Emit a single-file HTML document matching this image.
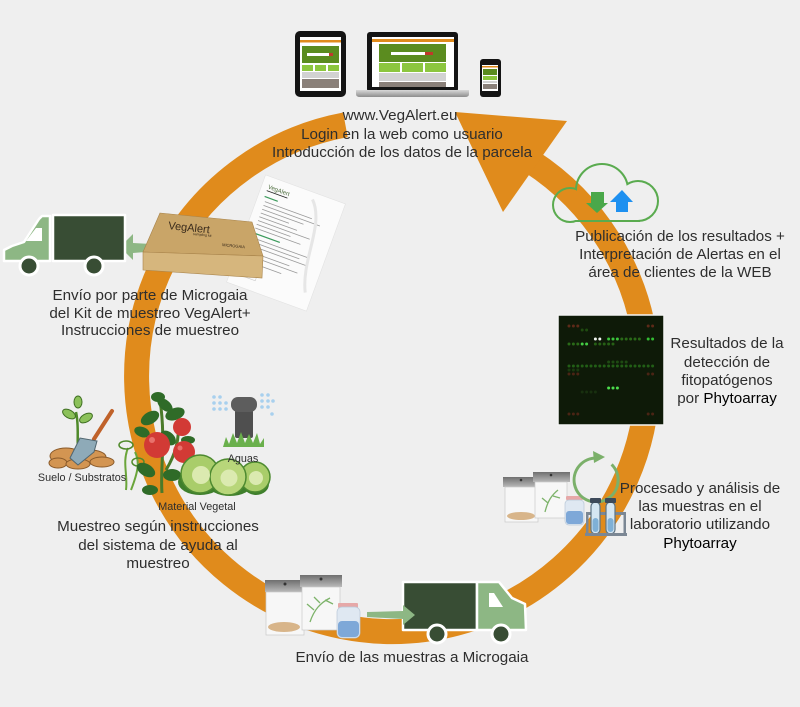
<!DOCTYPE html>
<html><head><meta charset="utf-8"><style>
html,body{margin:0;padding:0;background:#efefef;}
svg{display:block;}
text{font-family:"Liberation Sans",Arial,sans-serif;}
.t{font-size:15.2px;fill:#2e2e2e;text-anchor:middle;}
.s{font-size:10.8px;fill:#2e2e2e;text-anchor:middle;}
.k{fill:#000;}
</style></head><body>
<svg width="800" height="707" viewBox="0 0 800 707" xmlns="http://www.w3.org/2000/svg">
<defs>
<mask id="cm"><rect x="0" y="0" width="800" height="707" fill="#fff"/>
<circle cx="570" cy="205" r="16" fill="#000"/><circle cx="602" cy="190" r="25" fill="#000"/><circle cx="638" cy="201" r="19" fill="#000"/><rect x="570" y="192" width="68" height="28" fill="#000"/></mask>
<linearGradient id="hd" x1="0" y1="0" x2="0" y2="1"><stop offset="0" stop-color="#6f6f6f"/><stop offset="1" stop-color="#b9b9b9"/></linearGradient>
<linearGradient id="base" x1="0" y1="0" x2="0" y2="1"><stop offset="0" stop-color="#d8d8d8"/><stop offset="1" stop-color="#8d8d8d"/></linearGradient>
</defs>
<rect width="800" height="707" fill="#efefef"/>

<!-- ring -->
<path d="M345.4,124.8 A255.5,255.5 0 1 0 531.2,161.7" fill="none" stroke="#e08b1c" stroke-width="25"/>
<polygon points="455,112 567,121 503,212" fill="#e08b1c"/>

<!-- devices -->
<rect x="295" y="31" width="51" height="66" rx="5" fill="#141414"/>
<rect x="300" y="37" width="41" height="54" fill="#fff"/>
<rect x="300" y="40" width="41" height="2.5" fill="#e08b1c"/>
<rect x="302" y="46" width="37" height="17" fill="#5b8c1f"/>
<rect x="307" y="53" width="22" height="3" fill="#fff"/><rect x="329" y="53" width="4" height="3" fill="#c0392b"/>
<rect x="302" y="65" width="11" height="6" fill="#8cc63e"/><rect x="315" y="65" width="11" height="6" fill="#8cc63e"/><rect x="328" y="65" width="11" height="6" fill="#8cc63e"/>
<rect x="302" y="72" width="37" height="6" fill="#d2d2d2"/>
<rect x="302" y="79" width="37" height="9" fill="#8a8079"/>
<rect x="367" y="32" width="91" height="60" rx="3" fill="#141414"/>
<rect x="372" y="37" width="82" height="50" fill="#fff"/>
<rect x="372" y="39" width="82" height="3" fill="#e08b1c"/>
<rect x="379" y="44" width="67" height="18" fill="#5b8c1f"/>
<rect x="391" y="52" width="34" height="3" fill="#fff"/><rect x="425" y="52" width="8" height="3" fill="#c0392b"/>
<rect x="379" y="63" width="21" height="9" fill="#8cc63e"/><rect x="402" y="63" width="21" height="9" fill="#8cc63e"/><rect x="425" y="63" width="21" height="9" fill="#8cc63e"/>
<rect x="379" y="73" width="67" height="8" fill="#d2d2d2"/>
<rect x="379" y="82" width="67" height="5" fill="#8a8079"/>
<path d="M356,90 H469 V94 Q469,97 465,97 H360 Q356,97 356,94 Z" fill="url(#base)"/>
<rect x="480" y="59" width="21" height="38" rx="3" fill="#141414"/>
<rect x="482" y="65" width="16" height="26" fill="#fff"/>
<rect x="482" y="66" width="16" height="1.5" fill="#e08b1c"/>
<rect x="483" y="69" width="14" height="6" fill="#5b8c1f"/>
<rect x="483" y="76" width="14" height="4" fill="#8cc63e"/>
<rect x="483" y="81" width="14" height="2" fill="#d2d2d2"/>
<rect x="483" y="84" width="14" height="5" fill="#8a8079"/>

<!-- cloud -->
<g mask="url(#cm)" fill="none" stroke="#5aab4f" stroke-width="4">
<circle cx="570" cy="205" r="16"/><circle cx="602" cy="190" r="25"/><circle cx="638" cy="201" r="19"/><rect x="570" y="192" width="68" height="28"/></g>
<rect x="591" y="192" width="13" height="11" fill="#4aa84a"/><polygon points="586,203 608,203 597,213" fill="#4aa84a"/>
<polygon points="610,202 633,202 622,190" fill="#1e90f0"/><rect x="616" y="202" width="12" height="10" fill="#1e90f0"/>

<!-- microarray -->
<rect x="558" y="315" width="106" height="110" fill="#0e1a08" stroke="#f4f4f4" stroke-width="1.5"/>
<g stroke-width="3" stroke-linecap="round" stroke-dasharray="0 4.4" fill="none">
<line x1="569" y1="326" x2="578" y2="326" stroke="#5c2a18"/><line x1="648.2" y1="326" x2="657" y2="326" stroke="#5c2a18"/>
<line x1="582.2" y1="330" x2="591" y2="330" stroke="#1f4a10"/>
<line x1="595.4" y1="339" x2="604.2" y2="339" stroke="#f0f4f0"/>
<line x1="608.6" y1="339" x2="617.4" y2="339" stroke="#3cc43c"/>
<line x1="621.8" y1="339" x2="643.8" y2="339" stroke="#2a6a18"/>
<line x1="648.2" y1="339" x2="657" y2="339" stroke="#33bb33"/>
<line x1="569" y1="344" x2="578" y2="344" stroke="#2a6a18"/>
<line x1="582.2" y1="344" x2="591" y2="344" stroke="#44cc44"/>
<line x1="595.4" y1="344" x2="617.4" y2="344" stroke="#266015"/>
<line x1="608.6" y1="362" x2="630.6" y2="362" stroke="#1e4a12"/>
<line x1="569" y1="366" x2="657" y2="366" stroke="#225e16"/>
<line x1="569" y1="370" x2="578" y2="370" stroke="#1a3a10"/>
<line x1="569" y1="374" x2="578" y2="374" stroke="#4a2414"/><line x1="648.2" y1="374" x2="657" y2="374" stroke="#4a2414"/>
<line x1="608.6" y1="388" x2="617.4" y2="388" stroke="#4ddd4d"/>
<line x1="582.2" y1="392" x2="595.4" y2="392" stroke="#18300f"/>
<line x1="569" y1="414" x2="578" y2="414" stroke="#4a2414"/><line x1="648.2" y1="414" x2="657" y2="414" stroke="#4a2414"/>
</g>

<!-- left truck -->
<polygon points="120,247 133,234 133,243 170,245 170,250 133,253 133,260" fill="#8db784"/>
<g stroke="#fff" stroke-width="2.5" stroke-linejoin="round">
<rect x="53" y="215" width="72" height="46" fill="#384d34"/>
<polygon points="4,261 4,250 12,246 24,242 39,219 42,216 50,216 50,261" fill="#8db784"/>
</g>
<polygon points="26,241 36,228 42,228 42,241" fill="#fff"/>
<circle cx="29" cy="266" r="9" fill="#384d34" stroke="#fff" stroke-width="3"/>
<circle cx="94" cy="266" r="9" fill="#384d34" stroke="#fff" stroke-width="3"/>

<!-- paper sheet -->
<g transform="translate(286,243) rotate(20)">
<rect x="-42.5" y="-57" width="85" height="114" fill="#fbfbfb" stroke="#e2e2e2" stroke-width="0.6"/>
<text x="-36" y="-45" font-size="6" fill="#4b6b3b">VegAlert</text>
<rect x="-36" y="-43" width="22" height="0.8" fill="#222"/>
<rect x="-36" y="-37" width="14" height="1.2" fill="#3c9b5c"/>
<g fill="#9a9a9a"><rect x="-34" y="-32" width="50" height="0.8"/><rect x="-34" y="-28" width="60" height="0.8"/><rect x="-34" y="-24" width="44" height="0.8"/><rect x="-34" y="-20" width="30" height="0.8"/><rect x="-34" y="-16" width="40" height="0.8"/><rect x="-34" y="-12" width="55" height="0.8"/><rect x="-34" y="-8" width="36" height="0.8"/><rect x="-34" y="-4" width="48" height="0.8"/></g>
<rect x="-36" y="1" width="30" height="1.2" fill="#3c9b5c"/>
<g fill="#9a9a9a"><rect x="-34" y="6" width="60" height="0.8"/><rect x="-34" y="10" width="52" height="0.8"/><rect x="-34" y="14" width="62" height="0.8"/><rect x="-34" y="20" width="45" height="0.8"/><rect x="-34" y="24" width="55" height="0.8"/><rect x="-34" y="30" width="40" height="0.8"/></g>
<path d="M10,-50 C30,-30 20,10 35,40" fill="none" stroke="#e6e6e6" stroke-width="3"/>
<rect x="-34" y="36" width="18" height="10" fill="none" stroke="#c9c9c9" stroke-width="0.6"/>
</g>

<!-- box -->
<polygon points="160,213 252,222 263,256 143,252" fill="#c9a568" stroke="#a8834a" stroke-width="0.6"/>
<polygon points="143,252 263,256 262,278 143,270" fill="#d6b67d" stroke="#a8834a" stroke-width="0.6"/>
<text x="168" y="229" font-size="11" fill="#3b2c1c" transform="rotate(6 168 229)">VegAlert</text>
<text x="193" y="235" font-size="3.5" fill="#3b2c1c" transform="rotate(6 193 235)">sampling kit</text>
<text x="222" y="246" font-size="4" fill="#3b2c1c" transform="rotate(6 222 246)">MICROGAIA</text>

<!-- soil & shovel -->
<g fill="#d39552" stroke="#8a5a2a" stroke-width="1">
<ellipse cx="66" cy="456" rx="16" ry="8"/><ellipse cx="90" cy="457" rx="16" ry="7"/><ellipse cx="58" cy="463" rx="9" ry="5"/><ellipse cx="102" cy="462" rx="12" ry="5"/><ellipse cx="78" cy="464" rx="12" ry="5"/></g>
<path d="M78,450 C77,438 79,425 76,412" stroke="#4f8a2a" stroke-width="2.5" fill="none"/>
<ellipse cx="69" cy="414" rx="7" ry="4" fill="#8cc15a" stroke="#3f6f22" transform="rotate(30 69 414)"/>
<ellipse cx="86" cy="418" rx="7" ry="4" fill="#8cc15a" stroke="#3f6f22" transform="rotate(-30 86 418)"/>
<ellipse cx="78" cy="402" rx="4" ry="6" fill="#8cc15a" stroke="#3f6f22"/>
<line x1="94" y1="439" x2="112" y2="411" stroke="#c0622a" stroke-width="4" stroke-linecap="round"/>
<polygon points="70,458 80,438 97,441 94,452 78,465" fill="#8eaab8" stroke="#50656f" stroke-width="1"/>

<!-- tomato plant -->
<path d="M126,490 C128,475 122,462 128,448 M131,490 C138,472 140,462 135,452" stroke="#6aa53a" stroke-width="2" fill="none"/>
<ellipse cx="126" cy="445" rx="7" ry="4" fill="none" stroke="#4f8a2a" stroke-width="1.5"/>
<ellipse cx="138" cy="462" rx="6" ry="4" fill="none" stroke="#4f8a2a" stroke-width="1.5"/>
<path d="M162,493 C160,470 166,440 160,400 M166,470 C175,455 180,440 178,420" stroke="#4a7a2a" stroke-width="3" fill="none"/>
<g fill="#2f6b28">
<ellipse cx="150" cy="418" rx="10" ry="6" transform="rotate(-30 150 418)"/><ellipse cx="165" cy="405" rx="9" ry="5" transform="rotate(40 165 405)"/>
<ellipse cx="175" cy="414" rx="10" ry="6" transform="rotate(-20 175 414)"/><ellipse cx="158" cy="397" rx="7" ry="5"/>
<ellipse cx="146" cy="470" rx="10" ry="6" transform="rotate(30 146 470)"/><ellipse cx="172" cy="475" rx="9" ry="6"/>
<ellipse cx="168" cy="438" rx="9" ry="6" transform="rotate(40 168 438)"/><ellipse cx="150" cy="490" rx="8" ry="5"/>
<ellipse cx="142" cy="432" rx="8" ry="5" transform="rotate(20 142 432)"/><ellipse cx="188" cy="440" rx="7" ry="4"/></g>
<circle cx="157" cy="445" r="13" fill="#d23a35"/><circle cx="182" cy="427" r="9" fill="#d23a35"/><circle cx="184" cy="452" r="11" fill="#d23a35"/>
<circle cx="152" cy="440" r="3" fill="#e8716c"/><circle cx="180" cy="448" r="2.5" fill="#e8716c"/>

<!-- cabbages -->
<g fill="#3f7f2c"><ellipse cx="200" cy="482" rx="22" ry="13"/><ellipse cx="230" cy="484" rx="22" ry="12"/><ellipse cx="256" cy="484" rx="13" ry="11"/></g>
<g stroke="#4d8a30" stroke-width="1.5">
<circle cx="200" cy="474" r="19" fill="#a9cd6a"/><circle cx="255" cy="477" r="15" fill="#a9cd6a"/><circle cx="228" cy="477" r="18" fill="#b8d67a"/></g>
<g fill="#dbeab0"><circle cx="201" cy="475" r="9"/><circle cx="229" cy="478" r="8.5"/><circle cx="256" cy="478" r="7"/></g>

<!-- sprinkler -->
<rect x="235" y="410" width="18" height="28" rx="2" fill="#4f4f4f"/>
<rect x="231" y="397" width="26" height="15" rx="7" fill="#5d5d5d"/>
<path d="M223,447 L226,437 L229,444 L233,433 L237,443 L241,432 L245,443 L249,434 L253,443 L257,433 L260,444 L264,438 L264,447 Z" fill="#6ab04c"/>
<g fill="#a8d0ee"><circle cx="214" cy="397" r="1.8"/><circle cx="220" cy="397" r="1.8"/><circle cx="214" cy="403" r="1.8"/><circle cx="220" cy="403" r="1.8"/><circle cx="226" cy="403" r="1.8"/><circle cx="214" cy="409" r="1.8"/><circle cx="220" cy="409" r="1.8"/><circle cx="226" cy="409" r="1.8"/>
<circle cx="262" cy="395" r="1.8"/><circle cx="268" cy="395" r="1.8"/><circle cx="262" cy="401" r="1.8"/><circle cx="268" cy="401" r="1.8"/><circle cx="273" cy="401" r="1.8"/><circle cx="262" cy="407" r="1.8"/><circle cx="268" cy="407" r="1.8"/><circle cx="272" cy="414" r="1.8"/></g>

<!-- lab -->
<rect x="503" y="477" width="37" height="10" fill="url(#hd)"/><circle cx="521" cy="480" r="1.3" fill="#333"/>
<rect x="505" y="487" width="33" height="35" fill="#f7f7f7" stroke="#c9c9c9" stroke-width="0.7"/>
<ellipse cx="521" cy="516" rx="14" ry="4" fill="#d8b58a"/>
<rect x="533" y="472" width="37" height="10" fill="url(#hd)"/><circle cx="551" cy="475" r="1.3" fill="#333"/>
<rect x="535" y="482" width="32" height="36" fill="#f7f7f7" stroke="#c9c9c9" stroke-width="0.7"/>
<path d="M545,512 C548,500 552,495 558,490 M548,503 L542,498 M553,496 L560,498" stroke="#7db36a" stroke-width="1.3" fill="none"/>
<rect x="566" y="496" width="17" height="4" rx="1" fill="#e6a8a8"/>
<rect x="565" y="500" width="19" height="25" rx="4" fill="#dfe8f2" stroke="#b9c8d8" stroke-width="0.7"/>
<rect x="566" y="511" width="17" height="13" rx="3" fill="#7ea8d8"/>
<path d="M611.6,464.4 A22,22 0 1 1 594.1,458.1" fill="none" stroke="#7bb06a" stroke-width="3"/>
<polygon points="605,457 593,451 594,463" fill="#7bb06a"/>
<rect x="587" y="512" width="38" height="3" fill="#7b8794"/>
<rect x="591" y="502" width="9" height="32" rx="4.5" fill="#d5e6f2" stroke="#5b7384" stroke-width="1.2"/>
<rect x="606" y="502" width="9" height="32" rx="4.5" fill="#d5e6f2" stroke="#5b7384" stroke-width="1.2"/>
<rect x="592.5" y="518" width="6" height="14" rx="3" fill="#7fb0d6"/><rect x="607.5" y="518" width="6" height="14" rx="3" fill="#7fb0d6"/>
<rect x="590" y="498" width="11" height="5" rx="1" fill="#3d4a5a"/><rect x="605" y="498" width="11" height="5" rx="1" fill="#3d4a5a"/>
<rect x="585" y="533" width="42" height="3" fill="#7b8794"/>
<rect x="586" y="512" width="2.5" height="24" fill="#7b8794"/><rect x="623.5" y="512" width="2.5" height="24" fill="#7b8794"/>

<!-- bottom bags & truck -->
<rect x="265" y="580" width="40" height="12" fill="url(#hd)"/><circle cx="285" cy="584" r="1.5" fill="#333"/>
<rect x="266" y="592" width="38" height="43" fill="#f7f7f7" stroke="#c9c9c9" stroke-width="0.7"/>
<ellipse cx="284" cy="627" rx="16" ry="5" fill="#d8b58a"/>
<rect x="300" y="575" width="42" height="12" fill="url(#hd)"/><circle cx="321" cy="579" r="1.5" fill="#333"/>
<rect x="302" y="587" width="38" height="43" fill="#f7f7f7" stroke="#c9c9c9" stroke-width="0.7"/>
<path d="M310,622 C314,610 320,603 330,598 M314,610 L307,604 M320,603 L314,597 M325,600 L333,604" stroke="#7db36a" stroke-width="1.3" fill="none"/>
<rect x="338" y="603" width="20" height="5" rx="1" fill="#e6a8a8"/>
<rect x="337" y="607" width="23" height="31" rx="5" fill="#dfe8f2" stroke="#b9c8d8" stroke-width="0.7"/>
<rect x="338" y="621" width="21" height="16" rx="4" fill="#7ea8d8"/>
<g stroke="#fff" stroke-width="2.5" stroke-linejoin="round">
<rect x="403" y="582" width="74" height="48" fill="#384d34"/>
<polygon points="477,582 499,582 512,598 525,604 526,630 477,630" fill="#8db784"/>
</g>
<polygon points="489,593 494,593 503,607 489,607" fill="#fff"/>
<polygon points="367,612 403,611 403,605 415,615 403,625 403,619 367,617" fill="#8db784"/>
<circle cx="437" cy="634" r="9" fill="#384d34" stroke="#fff" stroke-width="3"/>
<circle cx="501" cy="634" r="9" fill="#384d34" stroke="#fff" stroke-width="3"/>

<!-- texts -->
<text class="t" x="400" y="120">www.VegAlert.eu</text>
<text class="t" x="402" y="139">Login en la web como usuario</text>
<text class="t" x="402" y="157">Introducción de los datos de la parcela</text>

<text class="t" x="680" y="241">Publicación de los resultados +</text>
<text class="t" x="680" y="259">Interpretación de Alertas en el</text>
<text class="t" x="680" y="277">área de clientes de la WEB</text>

<text class="t" x="727" y="348">Resultados de la</text>
<text class="t" x="727" y="367">detección de</text>
<text class="t" x="727" y="385">fitopatógenos</text>
<text class="t" x="727" y="403">por <tspan class="k">Phytoarray</tspan></text>

<text class="t" x="700" y="493">Procesado y análisis de</text>
<text class="t" x="700" y="511">las muestras en el</text>
<text class="t" x="700" y="529">laboratorio utilizando</text>
<text class="t" x="700" y="548"><tspan class="k">Phytoarray</tspan></text>

<text class="t" x="150" y="300">Envío por parte de Microgaia</text>
<text class="t" x="150" y="318">del Kit de muestreo VegAlert+</text>
<text class="t" x="150" y="335">Instrucciones de muestreo</text>

<text class="s" x="82" y="481">Suelo / Substratos</text>
<text class="s" x="243" y="462">Aguas</text>
<text class="s" x="197" y="510">Material Vegetal</text>

<text class="t" x="158" y="531">Muestreo según instrucciones</text>
<text class="t" x="158" y="550">del sistema de ayuda al</text>
<text class="t" x="158" y="568">muestreo</text>

<text class="t" x="412" y="662">Envío de las muestras a Microgaia</text>
</svg>
</body></html>
